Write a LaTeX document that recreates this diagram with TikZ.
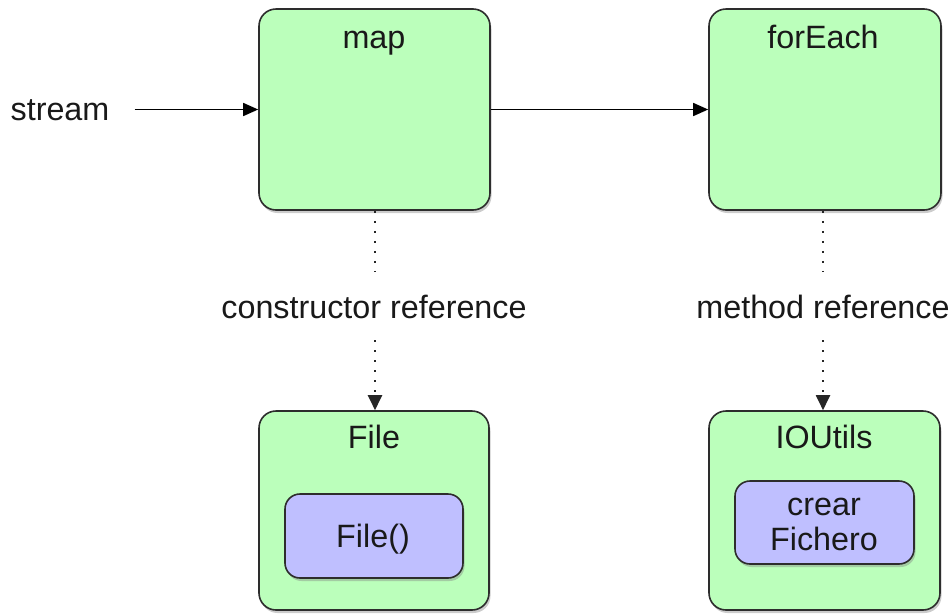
\documentclass[tikz,border=0pt]{standalone}
\usepackage{fontspec}
\setmainfont{Liberation Sans}
\usetikzlibrary{arrows.meta,shadows}
\definecolor{boxgreen}{RGB}{187,255,187}
\definecolor{boxblue}{RGB}{191,191,255}
\definecolor{edge}{RGB}{45,45,45}
\definecolor{ink}{RGB}{25,25,25}
\begin{document}
\begin{tikzpicture}[x=1pt,y=-1pt,
  every node/.style={font=\fontsize{32.3}{36}\selectfont, text=ink},
  outerbox/.style={draw=edge, line width=1.6pt, fill=boxgreen, rounded corners=17pt,
    inner sep=0pt, drop shadow={shadow xshift=1.5pt, shadow yshift=-3pt, opacity=0.4}},
  innerbox/.style={draw=edge, line width=1.6pt, fill=boxblue, rounded corners=15pt,
    inner sep=0pt, drop shadow={shadow xshift=1.5pt, shadow yshift=-3pt, opacity=0.4}},
  title/.style={anchor=base, inner sep=0pt},
  arr/.style={line width=1.5pt, draw=black, -{Triangle[length=15pt,width=13pt]}},
  dotline/.style={line width=2pt, draw=black!85, dash pattern=on 1.8pt off 8.2pt},
  dotarr/.style={dotline, -{Triangle[length=15pt,width=14pt]}},
  reflabel/.style={minimum height=66pt, inner sep=0pt}
]
\useasboundingbox (0,0) rectangle (952,614);
% boxes
\node[outerbox, minimum width=231pt, minimum height=201pt] (map) at (374.5,109.5) {};
\node[outerbox, minimum width=232pt, minimum height=201pt] (forEach) at (825,109.5) {};
\node[outerbox, minimum width=230pt, minimum height=199pt] (File) at (374,510.5) {};
\node[outerbox, minimum width=231pt, minimum height=199pt] (IOUtils) at (824.5,510.5) {};
\node[innerbox, minimum width=178pt, minimum height=84pt] (FileC) at (374,536) {};
\node[innerbox, minimum width=179pt, minimum height=83pt] (crear) at (824.5,522.5) {};
% titles and inner texts
\node[title] (mapT) at (374,48) {map};
\node[title] (forEachT) at (823,48) {forEach};
\node[title] (FileT) at (374,448) {File};
\node[title] (IOUtilsT) at (824,448) {IOUtils};
\node[title] (FileCT) at (373,547) {File()};
\node[title] (crearT) at (824,515) {crear};
\node[title] (FicheroT) at (824,550) {Fichero};
% stream
\node[title] (stream) at (60,120) {stream};
\draw[arr] ([xshift=25pt]stream.east |- map.west) -- (map.west);
\draw[arr] (map.east) -- (forEach.west);
% reference labels
\node[title] (cref) at (374,318) {constructor reference};
\node[title] (mref) at (823,318) {method reference};
\coordinate (c1) at (375,272);
\coordinate (c2) at (375,340);
\coordinate (m1) at (823,272);
\coordinate (m2) at (823,340);
\draw[dotline] (map.south -| c1) -- (c1);
\draw[dotarr] (c2) -- (c2 |- File.north);
\draw[dotline] (forEach.south -| m1) -- (m1);
\draw[dotarr] (m2) -- (m2 |- IOUtils.north);
\end{tikzpicture}
\end{document}
